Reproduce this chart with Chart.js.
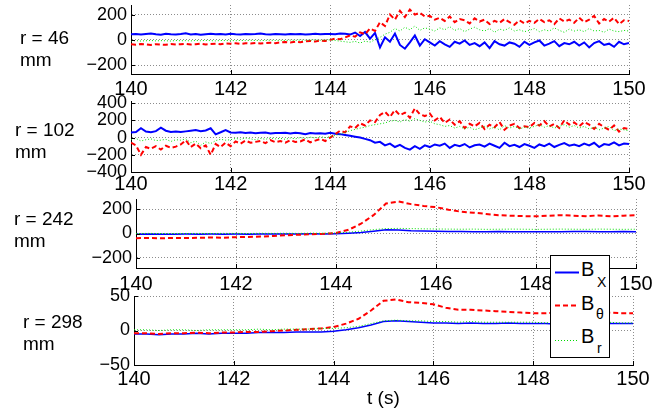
<!DOCTYPE html>
<html>
<head>
<meta charset="utf-8">
<script src="https://cdn.jsdelivr.net/npm/chart.js@4.4.0/dist/chart.umd.min.js"></script>
<style>
  body { margin: 0; width: 668px; height: 412px; overflow: hidden; position: relative; background: #fff;
         font-family: "Liberation Sans", Arial, sans-serif; color: #000; }
  canvas { position: absolute; left: 0; }
  .rlabel { position: absolute; font-size: 19px; line-height: 22px; white-space: nowrap; }
  #xlabel { position: absolute; left: 367px; top: 387px; font-size: 19px; line-height: 22px; }
  #legend { position: absolute; left: 550px; top: 255px; width: 60px; height: 103px; box-sizing: border-box;
            border: 1px solid #000; background: #fff; }
  #legend .lb { position: absolute; left: 30px; font-size: 20px; line-height: 24px; }
  #legend .ls { position: absolute; font-size: 14px; line-height: 16px; }
</style>
</head>
<body>
<canvas id="p46"></canvas>
<canvas id="p102"></canvas>
<canvas id="p242"></canvas>
<canvas id="p298"></canvas>

<div class="rlabel" style="left:20px;top:27px">r = 46<br>mm</div>
<div class="rlabel" style="left:15px;top:119px">r = 102<br>mm</div>
<div class="rlabel" style="left:14px;top:208px">r = 242<br>mm</div>
<div class="rlabel" style="left:23px;top:311px">r = 298<br>mm</div>
<div id="xlabel">t (s)</div>

<div id="legend">
  <svg width="58" height="101" style="position:absolute;left:0;top:0">
    <line x1="4" y1="16.5" x2="28" y2="16.5" stroke="#0000ff" stroke-width="2"/>
    <line x1="4" y1="49.5" x2="28" y2="49.5" stroke="#ff0000" stroke-width="2" stroke-dasharray="5,3"/>
    <line x1="4" y1="84.5" x2="28" y2="84.5" stroke="#00dd00" stroke-width="1" stroke-dasharray="1,2"/>
  </svg>
  <div class="lb" style="top:1px">B</div><div class="ls" style="left:46px;top:18px">X</div>
  <div class="lb" style="top:35px">B</div><div class="ls" style="left:45px;top:50px">θ</div>
  <div class="lb" style="top:68px">B</div><div class="ls" style="left:46px;top:84px">r</div>
</div>

<script>
// sampling times (s)
const tFine = [
  140.0, 140.1, 140.2, 140.3, 140.4, 140.5, 140.6, 140.7, 140.8, 140.9,
  141.0, 141.1, 141.2, 141.3, 141.4, 141.5, 141.6, 141.7, 141.8, 141.9,
  142.0, 142.1, 142.2, 142.3, 142.4, 142.5, 142.6, 142.7, 142.8, 142.9,
  143.0, 143.1, 143.2, 143.3, 143.4, 143.5, 143.6, 143.7, 143.8, 143.9,
  144.0, 144.1, 144.2, 144.3, 144.4, 144.5, 144.6, 144.7, 144.8, 144.9,
  145.0, 145.1, 145.2, 145.3, 145.4, 145.5, 145.6, 145.7, 145.8, 145.9,
  146.0, 146.1, 146.2, 146.3, 146.4, 146.5, 146.6, 146.7, 146.8, 146.9,
  147.0, 147.1, 147.2, 147.3, 147.4, 147.5, 147.6, 147.7, 147.8, 147.9,
  148.0, 148.1, 148.2, 148.3, 148.4, 148.5, 148.6, 148.7, 148.8, 148.9,
  149.0, 149.1, 149.2, 149.3, 149.4, 149.5, 149.6, 149.7, 149.8, 149.9,
  150.0
];
const tCoarse = [
  140.0, 140.25, 140.5, 140.75, 141.0, 141.25, 141.5, 141.75,
  142.0, 142.25, 142.5, 142.75, 143.0, 143.25, 143.5, 143.75,
  144.0, 144.25, 144.5, 144.75, 145.0, 145.25, 145.5, 145.75,
  146.0, 146.25, 146.5, 146.75, 147.0, 147.25, 147.5, 147.75,
  148.0, 148.25, 148.5, 148.75, 149.0, 149.25, 149.5, 149.75,
  150.0
];

// r = 46 mm
const bx46 = [
  44, 47, 42, 46, 50, 44, 41, 48, 45, 43,
  46, 52, 43, 47, 41, 45, 49, 44, 46, 42,
  48, 45, 43, 47, 44, 46, 50, 44, 42, 46,
  45, 43, 47, 44, 46, 42, 45, 48, 44, 47,
  46, 44, 50, 48, 42, 58, 30, 62, 10, 55,
  -60, 20, -15, 50, -40, -70, -20, 35, -45, 5,
  -20, -45, -10, -35, -55, -15, -30, -5, -40, -25,
  -50, -20, -65, -10, -35, -45, -20, -30, -55, -15,
  -40, -20, -5, -45, -30, -10, -50, -25, -35, -15,
  -45, -20, -60, -25, -10, -40, -30, -55, -15, -35,
  -25
];
const bth46 = [
  -35, -38, -33, -36, -40, -34, -37, -39, -33, -36,
  -35, -32, -37, -34, -30, -36, -33, -31, -35, -29,
  -30, -27, -32, -26, -29, -24, -28, -25, -22, -26,
  -20, -17, -21, -15, -18, -12, -9, -13, -5, -8,
  0, 10, 5, 20, 35, 25, 60, 45, 90, 70,
  140, 110, 200, 160, 230, 180, 240, 200, 215, 185,
  190, 160, 175, 150, 185, 140, 165, 155, 130, 170,
  145, 160, 125, 150, 135, 165, 140, 120, 155, 130,
  150, 135, 165, 140, 155, 125, 170, 145, 160, 135,
  175, 140, 160, 190, 130, 165, 145, 175, 125, 155,
  150
];
const br46 = [
  -8, -6, -9, -7, -5, -8, -6, -7, -9, -5,
  -7, -6, -8, -5, -7, -4, -6, -8, -5, -6,
  -5, -7, -4, -6, -3, -5, -6, -4, -2, -5,
  -3, -5, -2, -4, -1, -3, -2, 0, -3, -1,
  0, -5, -10, -15, -20, -12, -25, -10, -18, 0,
  20, 45, 60, 90, 70, 100, 80, 110, 75, 95,
  85, 70, 95, 80, 105, 75, 90, 65, 85, 100,
  80, 70, 90, 60, 85, 75, 95, 70, 80, 65,
  75, 90, 65, 80, 70, 95, 75, 60, 85, 70,
  80, 65, 90, 70, 75, 60, 85, 70, 65, 75,
  70
];

// r = 102 mm
const bx102 = [
  60, 65, 108, 70, 62, 75, 116, 80, 66, 70,
  65, 72, 80, 88, 75, 82, 108, 38, 62, 88,
  60, 55, 62, 52, 58, 50, 56, 60, 48, 54,
  52, 56, 48, 55, 50, 38, 52, 46, 50, 44,
  56, 45, 40, 30, 20, 10, 0, -15, -30, -60,
  -50, -90, -70, -110, -85, -120, -140, -100, -130, -90,
  -110, -80, -95, -70, -120, -85, -100, -75, -115, -90,
  -80, -105, -70, -95, -120, -60, -100, -85, -110, -75,
  -95, -120, -80, -100, -70, -110, -85, -65, -95, -80,
  -100, -70, -90, -60, -110, -75, -85, -55, -90, -70,
  -75
];
const bth102 = [
  -60, -90, -200, -110, -130, -100, -140, -95, -120, -105,
  -80, -30, -110, -70, -125, -90, -200, -75, -110, -60,
  -100, -45, -70, -35, -60, -50, -40, -65, -30, -55,
  -40, -60, -30, -50, -45, -20, -55, -35, -15, -40,
  0, 40, 80, 60, 130, 110, 166, 140, 200, 180,
  262, 300, 240, 320, 260, 290, 230, 340, 270, 250,
  280, 200, 240, 170, 210, 150, 190, 110, 160, 130,
  170, 100, 150, 120, 180, 90, 140, 160, 110, 130,
  120, 170, 140, 190, 130, 160, 110, 200, 150, 175,
  130, 180, 150, 100, 160, 120, 90, 140, 70, 110,
  100
];
const br102 = [
  -20, -10, -40, -25, -15, -35, -30, -20, -45, -25,
  -30, -15, -60, -40, -90, -50, -70, -35, -20, -30,
  -25, -10, -20, -5, -15, -25, -10, -20, -5, -15,
  -10, -20, -5, -15, 0, -10, 5, -5, 10, 0,
  10, 25, 40, 60, 80, 95, 110, 120, 140, 150,
  160, 170, 190, 200, 180, 210, 190, 220, 200, 180,
  190, 160, 150, 130, 140, 110, 130, 100, 120, 90,
  110, 130, 100, 120, 90, 140, 110, 130, 100, 120,
  110, 130, 150, 120, 140, 110, 130, 150, 120, 140,
  110, 130, 100, 120, 90, 110, 130, 80, 100, 90,
  80
];

// r = 242 mm
const bx242 = [
  -6, -5, -7, -6, -5, -6, -5, -6,
  -5, -6, -5, -4, -5, -4, -3, -4,
  -2, 2, 8, 18, 30, 28, 22, 20,
  18, 17, 16, 14, 15, 16, 14, 15,
  14, 15, 14, 16, 17, 15, 14, 16,
  15
];
const bth242 = [
  -38, -37, -39, -36, -37, -35, -33, -34,
  -30, -28, -25, -20, -14, -10, -6, -3,
  5, 30, 80, 150, 245, 262, 240, 225,
  215, 195, 178, 170, 160, 150, 145, 142,
  140, 145, 150, 145, 142, 148, 140, 146,
  150
];
const br242 = [
  0, 1, 0, -1, 0, 1, 0, 1,
  1, 0, 2, 1, 2, 1, 3, 2,
  4, 10, 20, 32, 40, 42, 40, 38,
  37, 36, 35, 36, 34, 35, 36, 35,
  34, 35, 36, 35, 34, 36, 35, 34,
  35
];

// r = 298 mm
const bx298 = [
  -5, -5, -6, -5, -5, -4, -5, -4,
  -4, -4, -3, -3, -3, -2, -2, -2,
  -1, 1, 4, 8, 13, 14, 13, 12,
  11, 11, 10, 11, 10, 10, 11, 10,
  10, 10, 9, 10, 10, 9, 10, 10,
  10
];
const bth298 = [
  -4, -4, -5, -4, -4, -3, -4, -3,
  -3, -2, -2, -1, 0, 1, 2, 3,
  5, 10, 17, 29, 43, 45, 41, 40,
  38, 33, 30, 30, 29, 28, 27, 26,
  25, 25, 26, 25, 26, 25, 26, 25,
  25
];
const br298 = [
  1, 1, 0, 1, 1, 0, 1, 1,
  1, 1, 2, 1, 2, 2, 2, 3,
  3, 4, 6, 10, 14, 15, 14, 14,
  13, 13, 12, 13, 12, 12, 12, 12,
  12, 11, 12, 12, 11, 12, 12, 11,
  11
];

// tick labels
const xTicks = [140, 142, 144, 146, 148, 150];
const yTicks46 = [-200, 0, 200];
const yTicks102 = [-400, -200, 0, 200, 400];
const yTicks242 = [-200, 0, 200];
const yTicks298 = [-50, 0, 50];

const FONT = '"Liberation Sans", Arial, sans-serif';

// MATLAB style inward tick marks
const innerTicks = {
    id: 'innerTicks',
    afterDraw(chart) {
        const ctx = chart.ctx;
        const a = chart.chartArea;
        const xs = chart.scales.x, ys = chart.scales.y;
        ctx.save();
        ctx.strokeStyle = '#000';
        ctx.lineWidth = 1;
        ctx.beginPath();
        xs.ticks.forEach(tk => {
            const px = Math.round(xs.getPixelForValue(tk.value)) + 0.5;
            ctx.moveTo(px, a.bottom);
            ctx.lineTo(px, a.bottom - 4);
        });
        ys.ticks.forEach(tk => {
            const py = Math.round(ys.getPixelForValue(tk.value)) + 0.5;
            ctx.moveTo(a.left, py);
            ctx.lineTo(a.left + 4, py);
        });
        ctx.stroke();
        ctx.restore();
    }
};

function pts(t, v) {
    return t.map((x, i) => ({ x: x, y: v[i] }));
}

function makePanel(id, box, t, bx, bth, br, yTicks) {
    const cv = document.getElementById(id);
    const xAxisH = 36;
    cv.width = 668;
    cv.height = box.bottom - box.top + 20 + xAxisH;
    cv.style.top = (box.top - 20) + 'px';

    return new Chart(cv, {
        type: 'line',
        data: {
            datasets: [
                { label: 'Br', data: pts(t, br), borderColor: '#00dd00', borderWidth: 1,
                  borderDash: [1, 2], pointRadius: 0, tension: 0 },
                { label: 'B\u03b8', data: pts(t, bth), borderColor: '#ff0000', borderWidth: 2,
                  borderDash: [5, 3], pointRadius: 0, tension: 0 },
                { label: 'Bx', data: pts(t, bx), borderColor: '#0000ff', borderWidth: box.bxWidth,
                  pointRadius: 0, tension: 0 }
            ]
        },
        options: {
            responsive: false,
            animation: false,
            events: [],
            devicePixelRatio: 1,
            layout: { padding: { top: 20, right: 668 - box.right, bottom: 0, left: 0 } },
            plugins: { legend: { display: false }, tooltip: { enabled: false } },
            scales: {
                x: {
                    type: 'linear',
                    min: 140,
                    max: 150,
                    afterBuildTicks: s => { s.ticks = xTicks.map(v => ({ value: v })); },
                    afterFit: s => { s.height = xAxisH; },
                    grid: { color: 'rgba(0,0,0,0.45)', lineWidth: 1, drawTicks: false },
                    border: { display: true, color: '#000', width: 1, dash: [1, 2] },
                    ticks: { color: '#000', font: { family: FONT, size: 20 }, padding: box.xPad,
                             maxRotation: 0, autoSkip: false }
                },
                y: {
                    min: box.ymin,
                    max: box.ymax,
                    afterBuildTicks: s => { s.ticks = yTicks.map(v => ({ value: v })); },
                    afterFit: s => { s.width = box.left; },
                    grid: { color: 'rgba(0,0,0,0.45)', lineWidth: 1, drawTicks: false },
                    border: { display: true, color: '#000', width: 1, dash: [1, 2] },
                    ticks: {
                        color: '#000', font: { family: FONT, size: 18 }, padding: 4, autoSkip: false,
                        callback: v => v < 0 ? '\u2212' + Math.abs(v) : String(v)
                    }
                }
            }
        },
        plugins: [innerTicks]
    });
}

makePanel('p46',  { left: 131, right: 629, top: 5,   bottom: 74,  ymin: -270, ymax: 276, xPad: 3, bxWidth: 2 },
          tFine, bx46, bth46, br46, yTicks46);
makePanel('p102', { left: 131, right: 629, top: 101, bottom: 172, ymin: -400, ymax: 425, xPad: 0, bxWidth: 2 },
          tFine, bx102, bth102, br102, yTicks102);
makePanel('p242', { left: 136, right: 636, top: 199, bottom: 268, ymin: -282, ymax: 282, xPad: 4, bxWidth: 1.5 },
          tCoarse, bx242, bth242, br242, yTicks242);
makePanel('p298', { left: 134, right: 633, top: 296, bottom: 365, ymin: -50, ymax: 50, xPad: 2, bxWidth: 1.5 },
          tCoarse, bx298, bth298, br298, yTicks298);
</script>
</body>
</html>
